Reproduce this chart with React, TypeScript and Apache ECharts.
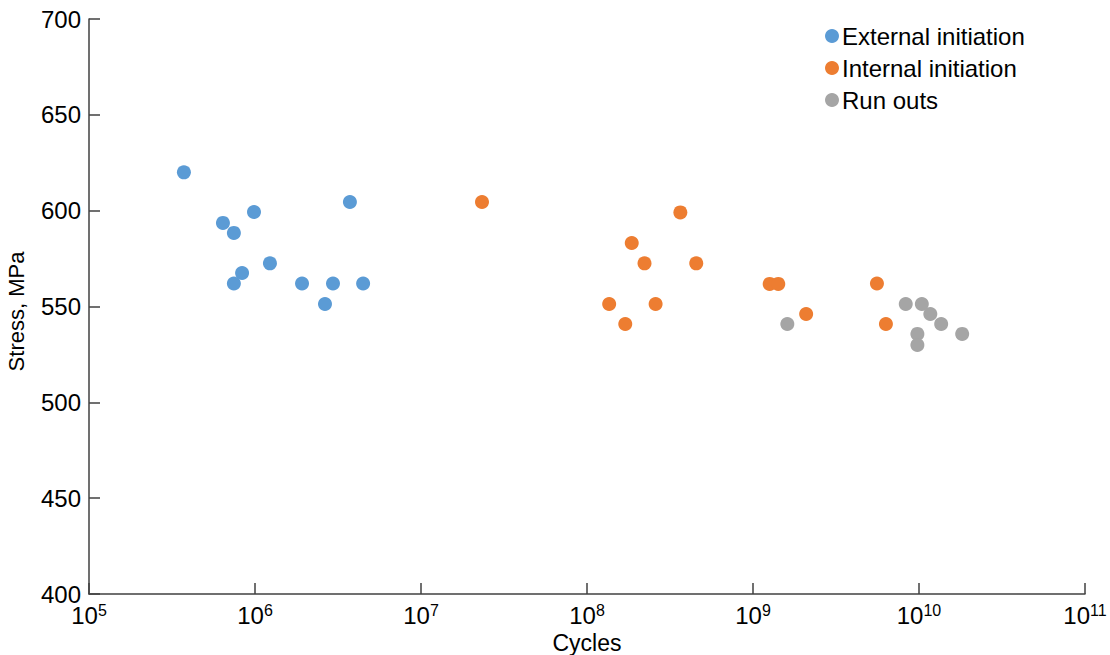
import React, { useEffect, useRef } from "react";
import * as echarts from "echarts";

const seriesNames = ["External initiation", "Internal initiation", "Run outs"];
const colors = ["#5B9BD5", "#ED7D31", "#A5A5A5"];

const externalCycles = [3.73e5, 6.41e5, 7.46e5, 9.86e5, 7.46e5, 8.36e5, 1.23e6, 1.92e6, 2.64e6, 2.95e6, 3.73e6, 4.48e6];
const externalStress = [620, 593.6, 588.4, 599.3, 562, 567.5, 572.5, 562, 551.3, 562, 604.5, 562];

const internalCycles = [2.33e7, 3.65e8, 1.86e8, 2.22e8, 4.55e8, 1.26e9, 1.42e9, 1.36e8, 2.59e8, 1.7e8, 2.09e9, 5.58e9, 6.32e9];
const internalStress = [604.5, 599.1, 583.1, 572.5, 572.5, 561.8, 561.8, 551.3, 551.3, 540.9, 546.1, 562, 540.9];

const runoutCycles = [1.61e9, 8.32e9, 1.04e10, 1.17e10, 1.36e10, 9.78e9, 9.78e9, 1.82e10];
const runoutStress = [540.9, 551.3, 551.3, 546.1, 540.9, 535.7, 529.9, 535.7];

const yTicks = [400, 450, 500, 550, 600, 650, 700];
const xExponents = [5, 6, 7, 8, 9, 10, 11];

const zip = (xs: number[], ys: number[]) => xs.map((x, i) => [x, ys[i]]);

export default function App() {
  const ref = useRef<HTMLDivElement>(null);
  useEffect(() => {
    if (!ref.current) return;
    const chart = echarts.init(ref.current, undefined, { renderer: "svg" });
    const font = "Liberation Sans, Arial, sans-serif";
    const axisColor = "#404040";
    const dataSets = [
      zip(externalCycles, externalStress),
      zip(internalCycles, internalStress),
      zip(runoutCycles, runoutStress),
    ];
    chart.setOption({
      animation: false,
      backgroundColor: "#ffffff",
      textStyle: { fontFamily: font },
      grid: { left: 89, right: 25, top: 19, bottom: 61, containLabel: false, outerBoundsMode: "none" },
      legend: {
        orient: "vertical",
        left: 820,
        top: 19,
        itemWidth: 14,
        itemHeight: 14,
        itemGap: 8,
        icon: "circle",
        textStyle: { fontSize: 24, color: "#000", fontFamily: font, padding: [0, 0, 0, -2] },
        data: seriesNames,
      },
      xAxis: {
        type: "log",
        logBase: 10,
        min: 1e5,
        max: 1e11,
        name: "Cycles",
        nameLocation: "middle",
        nameGap: 35,
        nameTextStyle: { fontSize: 23, color: "#000", fontFamily: font },
        splitLine: { show: false },
        axisLine: { lineStyle: { color: axisColor, width: 1.5 } },
        axisTick: { inside: true, length: 11, lineStyle: { color: axisColor, width: 1.5 } },
        axisLabel: {
          margin: 8,
          color: "#000",
          formatter: (v: number) => {
            const e = Math.round(Math.log10(v));
            if (!xExponents.includes(e)) return "";
            return "{b|10}{s|" + e + "}";
          },
          rich: {
            b: { fontSize: 24, color: "#000", fontFamily: font },
            s: { fontSize: 16, color: "#000", fontFamily: font, verticalAlign: "bottom", padding: [0, 0, 10, 0] },
          },
        },
      },
      yAxis: {
        type: "value",
        min: yTicks[0],
        max: yTicks[yTicks.length - 1],
        interval: 50,
        name: "Stress, MPa",
        nameLocation: "middle",
        nameGap: 62,
        nameTextStyle: { fontSize: 22, color: "#000", fontFamily: font, padding: [0, 10, 0, 0] },
        splitLine: { show: false },
        axisLine: { show: true, lineStyle: { color: axisColor, width: 1.5 } },
        axisTick: { show: true, inside: true, length: 11, lineStyle: { color: axisColor, width: 1.5 } },
        axisLabel: { fontSize: 24, color: "#000", margin: 8, fontFamily: font },
      },
      series: seriesNames.map((name, i) => ({
        name,
        type: "scatter",
        symbol: "circle",
        symbolSize: 14,
        itemStyle: { color: colors[i], opacity: 1 },
        data: dataSets[i],
      })),
    });
    return () => chart.dispose();
  }, []);
  return <div ref={ref} style={{ position: "absolute", left: 0, top: 0, width: 1110, height: 655 }} />;
}
